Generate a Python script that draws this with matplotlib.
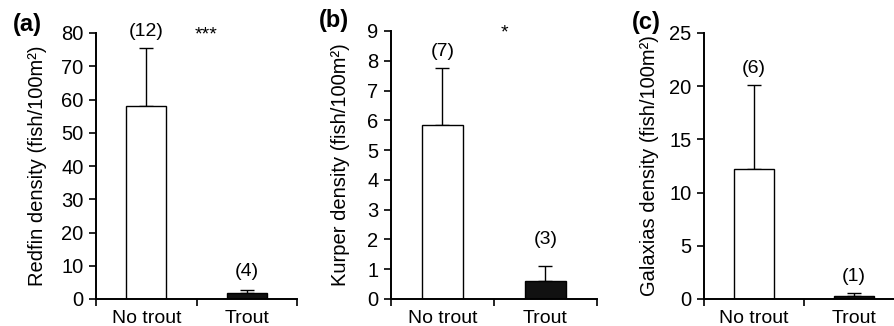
import numpy as np
import matplotlib.pyplot as plt

plt.rcParams['font.family'] = ['Liberation Sans', 'DejaVu Sans']

groups = ["No trout", "Trout"]

redfin_mean = [58.0, 1.8]
redfin_err = [17.5, 0.9]
redfin_n = ["(12)", "(4)"]

kurper_mean = [5.85, 0.62]
kurper_err = [1.9, 0.48]
kurper_n = ["(7)", "(3)"]

galaxias_mean = [12.2, 0.25]
galaxias_err = [7.9, 0.3]
galaxias_n = ["(6)", "(1)"]

W, H = 895, 326
fig = plt.figure(figsize=(W / 100, H / 100), dpi=100)


def px_axes(left, right, top, bottom):
    return fig.add_axes([left / W, 1 - bottom / H, (right - left) / W, (bottom - top) / H])


panels = [
    dict(box=(96, 297, 33, 299), xmax=2.0, ymax=80, yticks=np.arange(0, 81, 10),
         mean=redfin_mean, err=redfin_err, n=redfin_n, n_y=[80.5, 8.3],
         ylabel="Redfin density (fish/100m²)", ylab_x=38,
         letter="(a)", letter_xy=(27, 24), stars="***", star_xy=(1.1, 79.5)),
    dict(box=(391, 597, 31, 299), xmax=2.0, ymax=9, yticks=np.arange(0, 10, 1),
         mean=kurper_mean, err=kurper_err, n=kurper_n, n_y=[8.3, 2.0],
         ylabel="Kurper density (fish/100m²)", ylab_x=341,
         letter="(b)", letter_xy=(334, 21), stars="*", star_xy=(1.1, 8.92)),
    dict(box=(704, 894, 33, 299), xmax=1.9, ymax=25, yticks=np.arange(0, 26, 5),
         mean=galaxias_mean, err=galaxias_err, n=galaxias_n, n_y=[21.7, 2.1],
         ylabel="Galaxias density (fish/100m²)", ylab_x=650,
         letter="(c)", letter_xy=(646, 22), stars=None, star_xy=None),
]

x = np.array([0.5, 1.5])
for p in panels:
    l, r, t, b = p["box"]
    ax = px_axes(l, r, t, b)
    ax.bar(x, p["mean"], width=0.4, color=["white", "#111111"],
           edgecolor="black", linewidth=1.0, zorder=2)
    ax.errorbar(x, p["mean"], yerr=[[0, 0], p["err"]], fmt="none",
                ecolor="black", elinewidth=1.0, capsize=5, capthick=1.0, zorder=1)
    for xi, yi, s in zip(x, p["n_y"], p["n"]):
        ax.text(xi, yi, s, ha="center", va="center", fontsize=14)
    if p["stars"]:
        ax.text(p["star_xy"][0], p["star_xy"][1], p["stars"], ha="center",
                va="center", fontsize=14)
    ax.set_xlim(0, p["xmax"])
    ax.set_ylim(0, p["ymax"])
    ax.set_yticks(p["yticks"])
    ax.set_xticks([0, 1, 2] if p["xmax"] >= 2 else [0, 1])
    ax.set_xticklabels([])
    ax.set_xticks(x, minor=True)
    ax.set_xticklabels(groups, minor=True, fontsize=14)
    ax.tick_params(axis="x", which="minor", length=0, pad=8)
    ax.tick_params(axis="x", which="major", direction="out", length=5, width=1.2)
    ax.tick_params(axis="y", direction="out", length=5, width=1.2, labelsize=14.5, pad=4)
    for s in ["top", "right"]:
        ax.spines[s].set_visible(False)
    for s in ["left", "bottom"]:
        ax.spines[s].set_linewidth(1.4)
    ax.patch.set_alpha(0)
    fig.text(p["ylab_x"] / W, 1 - (t + b) / 2 / H, p["ylabel"], rotation=90,
             ha="center", va="center", fontsize=14.5)
    fig.text(p["letter_xy"][0] / W, 1 - p["letter_xy"][1] / H, p["letter"],
             ha="center", va="center", fontsize=17, fontweight="bold")

fig.savefig("out.png", dpi=100)
